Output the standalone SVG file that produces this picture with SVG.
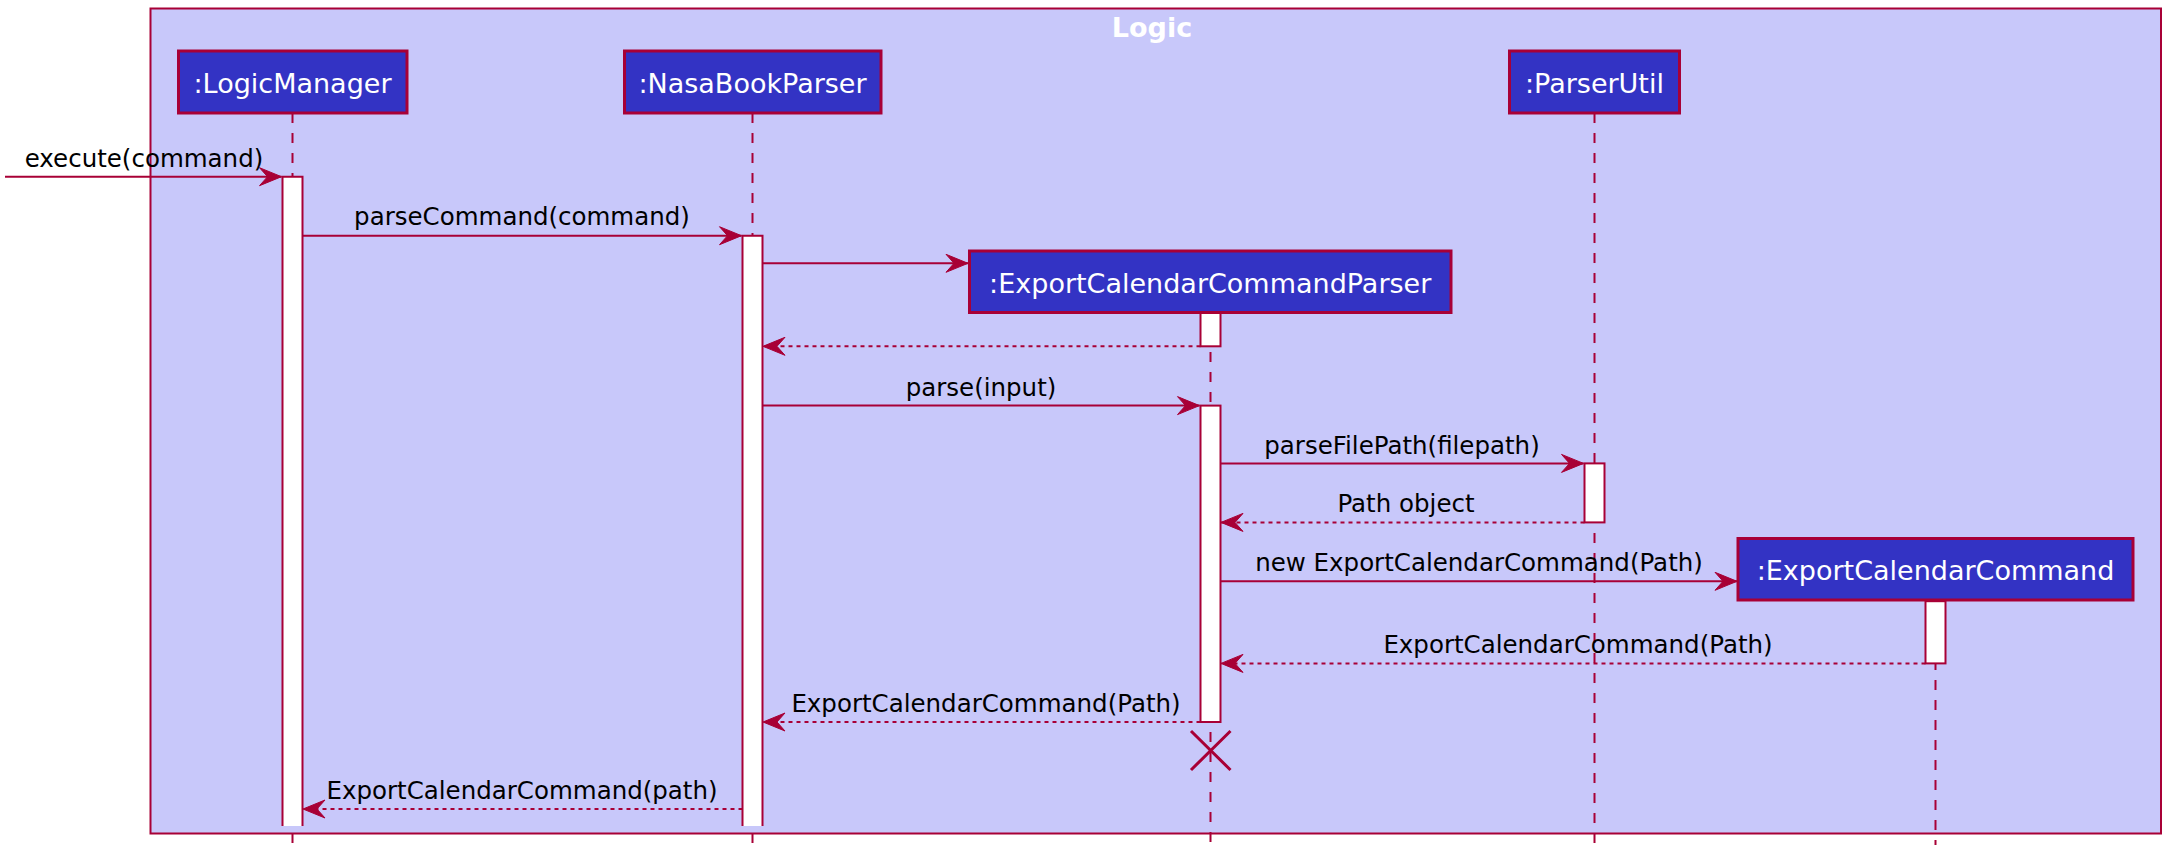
<svg xmlns="http://www.w3.org/2000/svg" width="2180" height="867" viewBox="0 0 2180 867">
<style>
.frame{fill:#C8C8FA;stroke:#A80036;stroke-width:2}
.title{font-family:"DejaVu Sans",sans-serif;font-weight:bold;font-size:27px;fill:#FFFFFF;text-anchor:middle}
.box{fill:#3333C4;stroke:#A80036;stroke-width:3}
.ntext{font-family:"DejaVu Sans",sans-serif;font-size:27px;fill:#FFFFFF;text-anchor:middle}
.life{stroke:#A80036;stroke-width:2;stroke-dasharray:10,10;fill:none}
.actfill{fill:#FFFFFF;stroke:none}
.actline{fill:none;stroke:#A80036;stroke-width:2}
.act{fill:#FFFFFF;stroke:#A80036;stroke-width:2}
.msg{stroke:#A80036;stroke-width:2;fill:none;marker-end:url(#ah)}
.ret{stroke:#A80036;stroke-width:2;fill:none;stroke-dasharray:4,4;marker-end:url(#ah)}
.lbl{font-family:"DejaVu Sans",sans-serif;font-size:24.5px;fill:#000000;text-anchor:middle}
.kill{stroke:#A80036;stroke-width:3;fill:none}
</style>
<defs>
<marker id="ah" markerUnits="userSpaceOnUse" markerWidth="26" markerHeight="22" viewBox="-24 -11 26 22" refX="0" refY="0" orient="auto">
<path d="M0,0 L-22,-9 L-14,0 L-22,9 Z" fill="#A80036" stroke="#A80036" stroke-width="1"/>
</marker>
</defs>

<g id="frame-logic">
<rect class="frame" x="150.5" y="8.5" width="2010.5" height="825"/>
<text class="title" x="1152" y="36.5">Logic</text>
</g>

<g id="lifelines">
<line class="life" x1="292.5" y1="113" x2="292.5" y2="844"/>
<line class="life" x1="752.5" y1="113" x2="752.5" y2="844"/>
<line class="life" x1="1210.5" y1="312" x2="1210.5" y2="844"/>
<line class="life" x1="1594.5" y1="113" x2="1594.5" y2="844"/>
<line class="life" x1="1935.5" y1="600" x2="1935.5" y2="845"/>
</g>

<g id="activations">
<rect class="actfill" x="282.5" y="176.7" width="20" height="649.3"/>
<path class="actline" d="M282.5,826 V176.7 H302.5 V826"/>
<rect class="actfill" x="742.5" y="235.7" width="20" height="590.3"/>
<path class="actline" d="M742.5,826 V235.7 H762.5 V826"/>
<rect class="act" x="1200.5" y="312.7" width="20" height="33.6"/>
<rect class="act" x="1200.5" y="405.6" width="20" height="316.4"/>
<rect class="act" x="1584.5" y="463.4" width="20" height="59"/>
<rect class="act" x="1925.5" y="601.2" width="20" height="62.2"/>
</g>

<g id="connectors">
<line class="msg" x1="5" y1="176.7" x2="281.5" y2="176.7"/>
<text class="lbl" x="144" y="166.7">execute(command)</text>
<line class="msg" x1="302.5" y1="235.7" x2="741.5" y2="235.7"/>
<text class="lbl" x="522" y="225">parseCommand(command)</text>
<line class="msg" x1="762.5" y1="263.3" x2="968" y2="263.3"/>
<line class="ret" x1="1200.5" y1="346.3" x2="763" y2="346.3"/>
<line class="msg" x1="762.5" y1="405.6" x2="1199.5" y2="405.6"/>
<text class="lbl" x="981" y="395.8">parse(input)</text>
<line class="msg" x1="1220.5" y1="463.4" x2="1583.5" y2="463.4"/>
<text class="lbl" x="1402" y="453.7">parseFilePath(filepath)</text>
<line class="ret" x1="1584.5" y1="522.4" x2="1221" y2="522.4"/>
<text class="lbl" x="1406" y="511.5">Path object</text>
<line class="msg" x1="1220.5" y1="581.3" x2="1737" y2="581.3"/>
<text class="lbl" x="1479" y="571">new ExportCalendarCommand(Path)</text>
<line class="ret" x1="1925.5" y1="663.4" x2="1221" y2="663.4"/>
<text class="lbl" x="1578" y="652.6">ExportCalendarCommand(Path)</text>
<line class="ret" x1="1200.5" y1="722" x2="763" y2="722"/>
<text class="lbl" x="986" y="712">ExportCalendarCommand(Path)</text>
<line class="ret" x1="742.5" y1="809" x2="303" y2="809"/>
<text class="lbl" x="522" y="799">ExportCalendarCommand(path)</text>
<path class="kill" d="M1191,731 L1230.5,770 M1191,770 L1230.5,731"/>
</g>

<g id="node-logicmanager">
<rect class="box" x="178.5" y="51" width="228.5" height="62"/>
<text class="ntext" x="292.5" y="92.7">:LogicManager</text>
</g>
<g id="node-nasabookparser">
<rect class="box" x="624.5" y="51" width="256.5" height="62"/>
<text class="ntext" x="752.5" y="92.7">:NasaBookParser</text>
</g>
<g id="node-parserutil">
<rect class="box" x="1509.5" y="51" width="170" height="62"/>
<text class="ntext" x="1594.5" y="92.7">:ParserUtil</text>
</g>
<g id="node-exportcalendarcommandparser">
<rect class="box" x="969.5" y="251" width="481.5" height="61.5"/>
<text class="ntext" x="1210.2" y="292.7">:ExportCalendarCommandParser</text>
</g>
<g id="node-exportcalendarcommand">
<rect class="box" x="1738" y="538.5" width="395" height="61.5"/>
<text class="ntext" x="1935.5" y="579.5">:ExportCalendarCommand</text>
</g>
</svg>
